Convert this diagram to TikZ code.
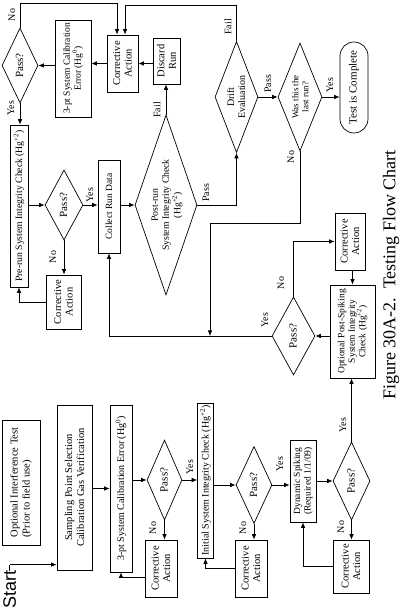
\documentclass[tikz,border=0pt]{standalone}
\usepackage{fontspec}
\setmainfont{Liberation Serif}
\newfontfamily\startfont{Liberation Sans}
\usetikzlibrary{shapes.geometric,arrows.meta,calc}
\newcommand{\ctx}[1]{\smash{\makebox[0pt]{\raisebox{-3.5pt}{\begin{tabular}{@{}c@{}}#1\end{tabular}}}}}
\begin{document}
\begin{tikzpicture}[rotate=90, transform shape, x=1pt, y=1pt,
  box/.style={draw, rectangle, line width=0.7pt, inner sep=0pt, align=center, font=\fontsize{10}{11}\selectfont},
  dia/.style={draw, diamond, line width=0.7pt, inner sep=0pt, font=\fontsize{11}{12}\selectfont},
  arr/.style={line width=0.7pt, -{Latex[length=5.5pt,width=4.5pt]}},
  ln/.style={line width=0.7pt},
  lbl/.style={inner sep=0pt, font=\fontsize{10}{11}\selectfont},
  ca/.style={box, font=\fontsize{10.5}{11.5}\selectfont}]
\useasboundingbox (0,0) rectangle (612,404);
% ---- lower flow (left part of landscape)
\node[box, minimum width=125, minimum height=38, align=left, font=\fontsize{10.5}{12}\selectfont] (oit) at (129.5,383) {Optional Interference Test\\(Prior to field use)};
\node[box, minimum width=165, minimum height=35, font=\fontsize{10.5}{12}\selectfont] (spl) at (124.5,329.5) {Sampling Point Selection\\Calibration Gas Verification};
\node[box, minimum width=167, minimum height=22] (cal1) at (123.5,283) {3-pt System Calibration Error (Hg\textsuperscript{0})};
\node[dia, minimum width=80, minimum height=35] (p1) at (132,239.5) {\ctx{Pass?}};
\node[ca, minimum width=57, minimum height=32] (ca1) at (43.5,243) {Corrective\\Action};
\node[box, minimum width=155, minimum height=16] (ini) at (131.5,198.5) {Initial System Integrity Check (Hg\textsuperscript{+2})};
\node[dia, minimum width=77, minimum height=36] (p2) at (127,150) {\ctx{Pass?}};
\node[ca, minimum width=57, minimum height=32] (ca2) at (43.5,153) {Corrective\\Action};
\node[box, minimum width=82, minimum height=26, font=\fontsize{9.5}{10.5}\selectfont] (dyn) at (131,101) {Dynamic Spiking\\(Required 1/1/09)};
\node[dia, minimum width=78, minimum height=37] (p3) at (131,52.5) {\ctx{Pass?}};
\node[ca, minimum width=53, minimum height=36] (ca3) at (45.5,53) {Corrective\\Action};
\node[box, minimum width=93, minimum height=45, font=\fontsize{9.5}{10.5}\selectfont] (ops) at (280.5,51.5) {Optional Post-Spiking\\System Integrity\\Check (Hg\textsuperscript{+2})};
\node[ca, minimum width=57, minimum height=30] (ca4) at (370.5,54) {Corrective\\Action};
\node[dia, minimum width=78, minimum height=43] (p4) at (276,110.5) {\ctx{Pass?}};
% ---- upper flow (right part of landscape)
\node[dia, minimum width=75, minimum height=36] (p5) at (546.5,384) {\ctx{Pass?}};
\node[box, minimum width=97, minimum height=36, font=\fontsize{9.5}{11}\selectfont] (cal2) at (543.5,331) {3-pt System Calibration\\Error (Hg\textsuperscript{0})};
\node[ca, minimum width=57, minimum height=31] (ca5) at (548.5,281.5) {Corrective\\Action};
\node[ca, minimum width=46, minimum height=27] (dis) at (551,237.5) {Discard\\Run};
\node[box, minimum width=162, minimum height=18, font=\fontsize{9.7}{11}\selectfont] (pre) at (406,385) {Pre-run System Integrity Check (Hg\textsuperscript{+2})};
\node[dia, minimum width=70, minimum height=38] (p6) at (407,340) {\ctx{Pass?}};
\node[ca, minimum width=54, minimum height=35] (ca6) at (310,340.5) {Corrective\\Action};
\node[box, minimum width=93, minimum height=22, font=\fontsize{9.5}{11}\selectfont] (col) at (405.5,295) {Collect Run Data};
\node[dia, minimum width=180, minimum height=62, font=\fontsize{9.7}{11}\selectfont] (post) at (407,238) {\ctx{Post-run\\System Integrity Check\\(Hg\textsuperscript{+2})}};
\node[dia, minimum width=111, minimum height=43, font=\fontsize{10}{11}\selectfont] (drift) at (515,167.5) {\ctx{Drift\\Evaluation}};
\node[dia, minimum width=108, minimum height=44, font=\fontsize{9}{10}\selectfont] (last) at (515,104) {\ctx{Was this the\\last run?}};
\node[draw, line width=0.7pt, rounded corners=14pt, minimum width=91, minimum height=28, inner sep=0pt, font=\fontsize{11}{12}\selectfont] (done) at (524.5,50) {Test is Complete};
% ---- start and title
\node[anchor=base west, inner sep=0pt, font=\startfont\fontsize{18}{20}\selectfont] (st) at (3,388) {Start};
\node[inner sep=0pt, font=\fontsize{18}{20}\selectfont] (title) at (337,13) {Figure 30A-2.\ \ Testing Flow Chart};
% ---- connectors, lower flow
\coordinate (sc) at ($(st.east)+(6,0)$);
\draw[ln] (st.east) -- (sc);
\draw[arr] (sc) -- (sc |- spl.north);
\draw[arr] (cal1.north |- spl.south) -- (cal1.north);
\draw[arr] (p1.north |- cal1.south) -- (p1.north);
\draw[arr] (p1.south) -- (p1.south |- ini.north);
\draw[arr] (p2.north |- ini.south) -- (p2.north);
\draw[arr] (p2.south) -- (p2.south |- dyn.north);
\draw[arr] (dyn.south) -- (dyn.south |- p3.north);
\draw[arr] (p3.east) -- (p3.east -| ops.west);
\draw[arr] (p1.west) -- (p1.west -| ca1.east);
\draw[arr] (p2.west) -- (p2.west -| ca2.east);
\draw[arr] (p3.west) -- (p3.west -| ca3.east);
\coordinate (c1) at ($(ca1.north)+(-8.5,0)$);
\draw[arr] (c1) -- (c1 |- cal1.west) -- (cal1.west);
\draw[arr] (ca2.north) -- (ca2.north |- ini.west) -- (ini.west);
\draw[arr] (ca3.north) -- (ca3.north |- dyn.west) -- (dyn.west);
\draw[arr] (ca4.west |- ops.east) -- (ops.east);
\draw[arr] (p4.south |- ops.north) -- (p4.south);
\draw[arr] (p4.east) -- (p4.east -| ca4.north) -- (ca4.north);
\draw[arr] (p4.north) -- (p4.north |- col.west) -- (col.west);
\coordinate (jn) at (276,194);
\draw[arr] (last.west) -- (389,104) -- (389,194) -- (jn);
% ---- connectors, upper flow
\draw[arr] (p5.east) -- (609,384) -- (609,287) -- (ca5.east |- 0,287);
\draw[arr] (drift.east) -- (607,167.5) -- (607,279) -- (ca5.east |- 0,279);
\draw[arr] (p5.west) -- (p5.west -| pre.east);
\draw[arr] (p6.north |- pre.south) -- (p6.north);
\draw[arr] (p6.south) -- (p6.south |- col.north);
\draw[arr] (p6.west) -- (p6.west -| ca6.east);
\draw[arr] (ca6.north) -- (ca6.north |- pre.west) -- (pre.west);
\draw[arr] (post.north |- col.south) -- (post.north);
\draw[arr] (post.east) -- (post.east -| dis.west);
\draw[arr] (ca5.south |- dis.north) -- (ca5.south);
\draw[arr] (ca5.north) -- (ca5.north |- cal2.south);
\draw[arr] (p5.south |- cal2.north) -- (p5.south);
\draw[arr] (post.south) -- (post.south |- drift.west) -- (drift.west);
\draw[arr] (drift.south) -- (drift.south |- last.north);
\draw[arr] (last.south) -- (last.south |- done.north);
% ---- labels
\node[lbl] (l1) at (84,251) {No};
\node[lbl] (l2) at (145,214) {Yes};
\node[lbl] (l3) at (84,161) {No};
\node[lbl] (l4) at (148,124) {Yes};
\node[lbl] (l5) at (85,63) {No};
\node[lbl] (l6) at (187,61) {Yes};
\node[lbl] (l7) at (292,139) {Yes};
\node[lbl] (l8) at (329,123) {No};
\node[lbl] (l9) at (597,392) {No};
\node[lbl] (l10) at (504,393) {Yes};
\node[lbl] (l11) at (417,314) {Yes};
\node[lbl] (l12) at (355,351) {No};
\node[lbl] (l13) at (502,247) {Fail};
\node[lbl] (l14) at (419,198) {Pass};
\node[lbl] (l15) at (585,176) {Fail};
\node[lbl] (l16) at (528,136) {Pass};
\node[lbl] (l17) at (527,74) {Yes};
\node[lbl] (l18) at (455,113) {No};
\end{tikzpicture}
\end{document}
